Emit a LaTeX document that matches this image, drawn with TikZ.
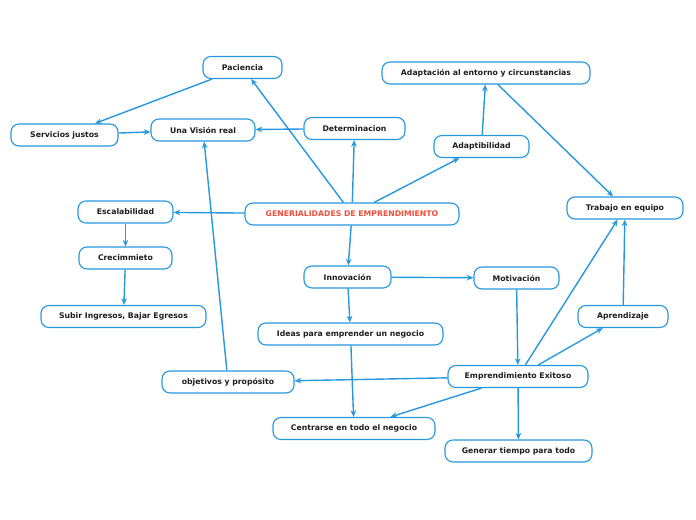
\documentclass[tikz,border=0pt]{standalone}
\usepackage{fontspec}
\setmainfont{DejaVu Sans}
\usetikzlibrary{arrows.meta,positioning}
\definecolor{mmblue}{RGB}{38,152,222}
\definecolor{mmred}{RGB}{238,78,58}
\definecolor{mmtext}{RGB}{30,30,30}
\tikzset{
  idea/.style={draw=mmblue, line width=0.85pt, rounded corners=6pt, fill=white,
    minimum height=16.5pt, inner sep=0pt, text=mmtext,
    font=\fontsize{5.8}{7}\selectfont\bfseries},
  link/.style={mmblue, line width=1.05pt, -{Stealth[length=5pt,width=4.2pt]}}
}

\begin{document}
\begin{tikzpicture}[x=0.75pt,y=-0.75pt]
  \useasboundingbox (0,0) rectangle (696,520);

  % Central topic
  \node[idea, minimum width=160.5pt, text=mmred] (gen) at (352,214) {GENERIALIDADES DE EMPRENDIMIENTO};

  % Upper branch
  \node[idea, minimum width=59.25pt] (pac) at (242.5,67.5) {Paciencia};
  \node[idea, minimum width=80.25pt] (serv) at (64.5,135) {Servicios justos};
  \node[idea, minimum width=78pt] (vis) at (203,130) {Una Visión real};
  \node[idea, minimum width=75.75pt] (det) at (354.5,128.5) {Determinacion};
  \node[idea, minimum width=156pt] (ent) at (486,73) {Adaptación al entorno y circunstancias};
  \node[idea, minimum width=71.25pt] (adap) at (481.5,146.5) {Adaptibilidad};
  \node[idea, minimum width=87pt] (team) at (625,208) {Trabajo en equipo};

  % Left branch
  \node[idea, minimum width=71.25pt] (esc) at (125.5,212) {Escalabilidad};
  \node[idea, minimum width=69.75pt] (crec) at (125.5,258) {Crecimmieto};
  \node[idea, minimum width=123.75pt] (ing) at (123.5,316.5) {Subir Ingresos, Bajar Egresos};

  % Lower branch
  \node[idea, minimum width=65.25pt] (inn) at (347.5,277) {Innovación};
  \node[idea, minimum width=63.75pt] (mot) at (516.5,278) {Motivación};
  \node[idea, minimum width=138.75pt] (ideas) at (350.5,334) {Ideas para emprender un negocio};
  \node[idea, minimum width=67.5pt] (apr) at (623,316.5) {Aprendizaje};
  \node[idea, minimum width=99pt] (obj) at (228,382) {objetivos y propósito};
  \node[idea, minimum width=105pt] (exito) at (518,376.5) {Emprendimiento Exitoso};
  \node[idea, minimum width=121.5pt] (cent) at (354,428.5) {Centrarse en todo el negocio};
  \node[idea, minimum width=110.25pt] (tiempo) at (518.5,451) {Generar tiempo para todo};

  % Connectors
  \draw[link] (gen) -- (pac);
  \draw[link] (gen) -- (det);
  \draw[link] (gen) -- (adap);
  \draw[link] (gen) -- (esc);
  \draw[link] (gen) -- (inn);
  \draw[link] (pac) -- (serv);
  \draw[link] (serv) -- (vis);
  \draw[link] (det) -- (vis);
  \draw[link] (adap) -- (ent);
  \draw[link] (ent) -- (team);
  \draw[link] (esc) -- (crec);
  \draw[link] (crec) -- (ing);
  \draw[link] (inn) -- (mot);
  \draw[link] (inn) -- (ideas);
  \draw[link] (ideas) -- (cent);
  \draw[link] (mot) -- (exito);
  \draw[link] (exito) -- (team);
  \draw[link] (exito) -- (apr);
  \draw[link] (apr) -- (team);
  \draw[link] (exito) -- (obj);
  \draw[link] (obj) -- (vis);
  \draw[link] (exito) -- (cent);
  \draw[link] (exito) -- (tiempo);
\end{tikzpicture}
\end{document}
